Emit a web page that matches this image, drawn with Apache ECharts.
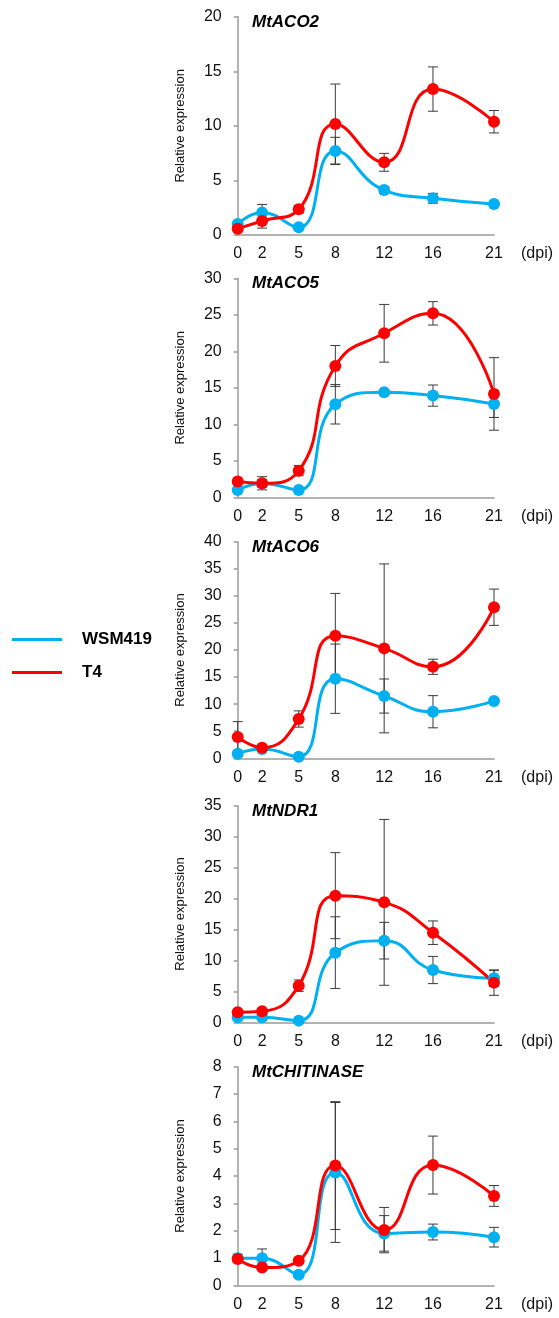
<!DOCTYPE html>
<html>
<head>
<meta charset="utf-8">
<script src="https://cdn.jsdelivr.net/npm/echarts@6/dist/echarts.min.js"></script>
<style>
html,body{margin:0;padding:0;background:#fff;}
#chart{width:559px;height:1318px;}
</style>
</head>
<body>
<div id="chart"></div>
<script>
// ---- data ----
const days = [0, 2, 5, 8, 12, 16, 21];
const genes = ['MtACO2', 'MtACO5', 'MtACO6', 'MtNDR1', 'MtCHITINASE'];
const yMax = [20, 30, 40, 35, 8];
const yStep = [5, 5, 5, 5, 1];
const seriesNames = ['WSM419', 'T4'];

const wsm_ACO2 = [1.0, 2.05, 0.7, 7.7, 4.12, 3.36, 2.84];
const wsmErr_ACO2 = [0.1, 0.75, 0.1, 1.25, 0.3, 0.45, 0.1];
const t4_ACO2 = [0.58, 1.28, 2.35, 10.17, 6.66, 13.37, 10.38];
const t4Err_ACO2 = [0.1, 0.65, 0.35, 3.66, 0.82, 2.03, 1.03];

const wsm_ACO5 = [1.0, 1.9, 1.0, 12.74, 14.38, 13.93, 12.79];
const wsmErr_ACO5 = [0.2, 0.5, 0.2, 2.7, 0.3, 1.45, 1.85];
const t4_ACO5 = [2.15, 1.92, 3.65, 17.99, 22.47, 25.2, 14.16];
const t4Err_ACO5 = [0.2, 0.9, 0.7, 2.8, 3.95, 1.6, 4.97];

const wsm_ACO6 = [0.86, 1.72, 0.3, 14.7, 11.5, 8.6, 10.6];
const wsmErr_ACO6 = [0.2, 0.3, 0.2, 6.4, 3.15, 2.97, 0.3];
const t4_ACO6 = [3.94, 1.97, 7.26, 22.65, 20.3, 16.9, 27.9];
const t4Err_ACO6 = [2.83, 0.3, 1.5, 7.8, 15.6, 1.4, 3.35];

const wsm_NDR1 = [0.81, 0.81, 0.27, 11.25, 13.19, 8.45, 7.1];
const wsmErr_NDR1 = [0.2, 0.2, 0.1, 5.8, 2.96, 2.2, 1.3];
const t4_NDR1 = [1.62, 1.78, 5.92, 20.46, 19.38, 14.48, 6.41];
const t4Err_NDR1 = [0.2, 0.3, 0.92, 6.95, 13.4, 1.9, 2.05];

const wsm_CHIT = [0.99, 0.99, 0.39, 4.13, 1.9, 1.95, 1.76];
const wsmErr_CHIT = [0.15, 0.34, 0.05, 2.56, 0.65, 0.29, 0.36];
const t4_CHIT = [0.96, 0.65, 0.9, 4.38, 2.02, 4.4, 3.27];
const t4Err_CHIT = [0.1, 0.05, 0.1, 2.34, 0.83, 1.06, 0.38];

const wsmValues = [wsm_ACO2, wsm_ACO5, wsm_ACO6, wsm_NDR1, wsm_CHIT];
const wsmErrors = [wsmErr_ACO2, wsmErr_ACO5, wsmErr_ACO6, wsmErr_NDR1, wsmErr_CHIT];
const t4Values = [t4_ACO2, t4_ACO5, t4_ACO6, t4_NDR1, t4_CHIT];
const t4Errors = [t4Err_ACO2, t4Err_ACO5, t4Err_ACO6, t4Err_NDR1, t4Err_CHIT];

// ---- layout / style ----
const gridTops = [16.7, 278.3, 541.7, 805.7, 1066.7];
const gridHeights = [218.3, 219, 216.6, 216.6, 218.6];
const gridLeft = 237.7, gridRight = 65;
const FONT = 'Liberation Sans, Arial, sans-serif';
const BLUE = '#00B0F0', RED = '#FF0000';
const AXIS = '#9a9a9a';
const SMOOTH = 0.5;

const chart = echarts.init(document.getElementById('chart'), null, {renderer: 'canvas'});

function errRender(params, api) {
  const x = api.value(0), v = api.value(1), e = api.value(2);
  const pHi = api.coord([x, v + e]);
  const pLo = api.coord([x, v - e]);
  const w = 5;
  const st = {stroke: '#3a3a3a', lineWidth: 1};
  return {type: 'group', children: [
    {type: 'line', shape: {x1: pHi[0], y1: pHi[1], x2: pLo[0], y2: pLo[1]}, style: st},
    {type: 'line', shape: {x1: pHi[0] - w, y1: pHi[1], x2: pHi[0] + w, y2: pHi[1]}, style: st},
    {type: 'line', shape: {x1: pLo[0] - w, y1: pLo[1], x2: pLo[0] + w, y2: pLo[1]}, style: st}
  ]};
}

const grid = [], xAxis = [], yAxis = [], series = [], title = [], graphic = [];
genes.forEach((g, i) => {
  grid.push({left: gridLeft, right: gridRight, top: gridTops[i], height: gridHeights[i]});
  xAxis.push({
    type: 'value', gridIndex: i, min: 0, max: 21,
    axisLine: {show: true, onZero: false, lineStyle: {color: AXIS, width: 1.5}},
    axisTick: {show: false},
    splitLine: {show: false},
    axisLabel: {customValues: days, color: '#111', fontSize: 16, fontFamily: FONT, margin: 11}
  });
  yAxis.push({
    type: 'value', gridIndex: i, min: 0, max: yMax[i], interval: yStep[i],
    name: 'Relative expression', nameLocation: 'middle', nameGap: 51,
    nameTextStyle: {fontSize: 13, fontFamily: FONT, color: '#111'},
    axisLine: {show: true, lineStyle: {color: AXIS, width: 1.5}},
    axisTick: {show: true, length: 4, lineStyle: {color: AXIS, width: 1.5}},
    splitLine: {show: false},
    axisLabel: {color: '#111', fontSize: 16, fontFamily: FONT, margin: 16}
  });
  title.push({
    text: g, left: 252, top: gridTops[i] - 3, padding: 0,
    textStyle: {fontStyle: 'italic', fontWeight: 'bold', fontSize: 17, fontFamily: FONT, color: '#000'}
  });
  graphic.push({
    type: 'text', left: 521, top: gridTops[i] + gridHeights[i] + 11,
    style: {text: '(dpi)', fontSize: 16, fontFamily: FONT, fill: '#111'}
  });
  const groups = [[wsmValues[i], wsmErrors[i], BLUE, seriesNames[0]], [t4Values[i], t4Errors[i], RED, seriesNames[1]]];
  groups.forEach(([vals, errs, col, nm]) => {
    series.push({
      type: 'custom', name: nm + ' error', xAxisIndex: i, yAxisIndex: i, z: 1,
      renderItem: errRender, silent: true,
      encode: {x: 0, y: 1},
      data: days.map((d, k) => [d, vals[k], errs[k]])
    });
  });
  groups.forEach(([vals, errs, col, nm]) => {
    series.push({
      type: 'line', name: nm, xAxisIndex: i, yAxisIndex: i, z: 3,
      smooth: SMOOTH, symbol: 'circle', symbolSize: 12,
      itemStyle: {color: col}, lineStyle: {color: col, width: 3},
      data: days.map((d, k) => [d, vals[k]])
    });
  });
});

chart.setOption({
  animation: false,
  backgroundColor: '#fff',
  textStyle: {fontFamily: FONT},
  grid, xAxis, yAxis, series, title, graphic,
  legend: {
    data: seriesNames, orient: 'vertical', left: 12, top: 631, padding: 0,
    icon: 'rect', itemWidth: 50, itemHeight: 3, itemGap: 16,
    textStyle: {fontWeight: 'bold', fontSize: 17, fontFamily: FONT, color: '#000', padding: [0, 0, 0, 15]}
  }
});
</script>
</body>
</html>
